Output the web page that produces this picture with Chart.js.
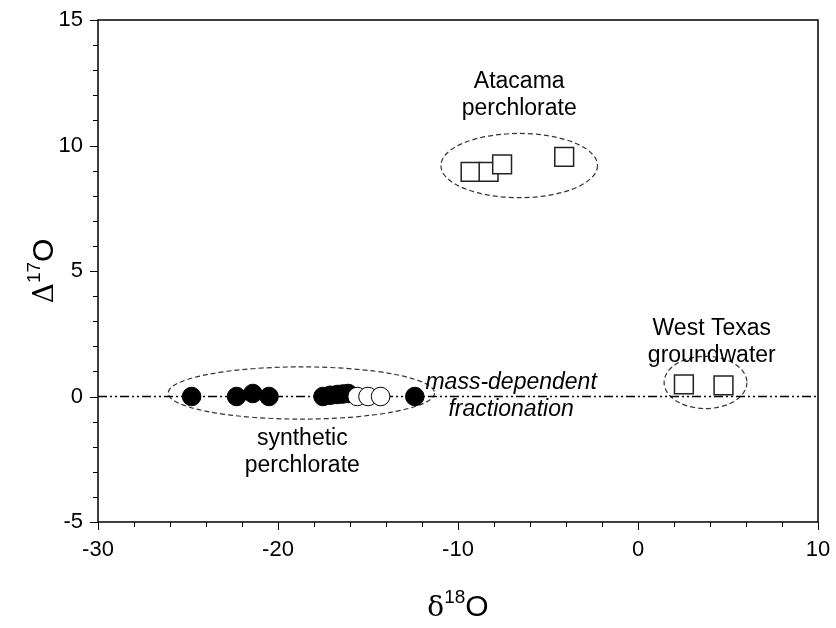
<!DOCTYPE html>
<html>
<head>
<meta charset="utf-8" />
<title>chart</title>
<script src="https://cdn.jsdelivr.net/npm/chart.js"></script>
<style>
  body { margin: 0; background: #fff; }
  #wrap { width: 836px; height: 628px; }
</style>
</head>
<body>
<div id="wrap"><canvas id="scatter" width="836" height="628"></canvas></div>
<script>
// synthetic perchlorate (filled = one lab set, open = another)
var synthFilledX = [-24.8, -22.3, -21.4, -20.5, -17.5, -17.1, -16.7, -16.4, -16.1, -12.4];
var synthFilledY = [0.0, 0.0, 0.12, 0.0, 0.0, 0.05, 0.08, 0.1, 0.12, 0.0];
var synthOpenX = [-15.6, -15.0, -14.3];
var synthOpenY = [0.0, 0.0, 0.0];
// Atacama + West Texas
var atacamaX = [-9.3, -8.3, -7.55, -4.1];
var atacamaY = [8.95, 8.95, 9.25, 9.55];
var texasX = [2.55, 4.75];
var texasY = [0.48, 0.44];
// mass-dependent line
var mdlX = [-30, 10];
var mdlY = [0, 0];

// dashed ellipses round the groups: cx, cy, rx, ry (data units)
var ellipseCx = [-18.7, -6.6, 3.75];
var ellipseCy = [0.14, 9.2, 0.56];
var ellipseRx = [7.4, 4.35, 2.3];
var ellipseRy = [1.04, 1.28, 1.04];

var noteText = [["Atacama", "perchlorate"], ["West Texas", "groundwater"], ["synthetic", "perchlorate"], ["mass-dependent", "fractionation"]];
var noteX = [-6.6, 4.1, -18.65, -7.05];
var noteY = [12.0, 2.16, -2.2, 0.02];
var noteItalic = [false, false, false, true];

function pts(xs, ys) {
    return xs.map(function (x, i) { return { x: x, y: ys[i] }; });
}

var extras = {
    id: 'extras',
    beforeDatasetsDraw: function (chart) {
        var ctx = chart.ctx, xs = chart.scales.x, ys = chart.scales.y;
        ctx.save();
        ctx.strokeStyle = '#333';
        ctx.lineWidth = 1.2;
        ctx.setLineDash([5, 3]);
        for (var i = 0; i < ellipseCx.length; i++) {
            var cx = xs.getPixelForValue(ellipseCx[i]);
            var cy = ys.getPixelForValue(ellipseCy[i]);
            var rx = xs.getPixelForValue(ellipseCx[i] + ellipseRx[i]) - cx;
            var ry = cy - ys.getPixelForValue(ellipseCy[i] + ellipseRy[i]);
            ctx.beginPath();
            ctx.ellipse(cx, cy, rx, ry, 0, 0, Math.PI * 2);
            ctx.stroke();
        }
        ctx.restore();
    },
    afterDraw: function (chart) {
        var ctx = chart.ctx, xs = chart.scales.x, ys = chart.scales.y, a = chart.chartArea;
        ctx.save();
        // frame
        ctx.strokeStyle = '#000';
        ctx.lineWidth = 1.5;
        ctx.strokeRect(a.left, a.top, a.right - a.left, a.bottom - a.top);
        // tick marks, outside
        ctx.lineWidth = 1;
        ctx.beginPath();
        xs.ticks.forEach(function (t) {
            var px = Math.round(xs.getPixelForValue(t.value)) + 0.5;
            var len = (t.value % 10 === 0) ? 8 : 5;
            ctx.moveTo(px, a.bottom);
            ctx.lineTo(px, a.bottom + len);
        });
        ys.ticks.forEach(function (t) {
            var py = Math.round(ys.getPixelForValue(t.value)) + 0.5;
            var len = (t.value % 5 === 0) ? 8 : 5;
            ctx.moveTo(a.left, py);
            ctx.lineTo(a.left - len, py);
        });
        ctx.stroke();

        // notes
        ctx.fillStyle = '#000';
        ctx.textAlign = 'center';
        ctx.textBaseline = 'middle';
        for (var i = 0; i < noteText.length; i++) {
            ctx.font = (noteItalic[i] ? 'italic ' : '') + '23px "Liberation Sans", Arial, sans-serif';
            var nx = xs.getPixelForValue(noteX[i]);
            var ny = ys.getPixelForValue(noteY[i]);
            ctx.fillText(noteText[i][0], nx, ny - 13.5);
            ctx.fillText(noteText[i][1], nx, ny + 13.5);
        }

        // axis titles with superscripts
        function title(sym, sup, letter) {
            ctx.textAlign = 'left';
            ctx.textBaseline = 'alphabetic';
            ctx.font = '28px "DejaVu Serif", "Liberation Serif", serif';
            var w1 = ctx.measureText(sym).width;
            ctx.font = '19px "Liberation Sans", Arial, sans-serif';
            var w2 = ctx.measureText(sup).width;
            ctx.font = '30px "Liberation Sans", Arial, sans-serif';
            var w3 = ctx.measureText(letter).width;
            var x0 = -(w1 + w2 + w3) / 2;
            ctx.font = '28px "DejaVu Serif", "Liberation Serif", serif';
            ctx.fillText(sym, x0, 0);
            ctx.font = '19px "Liberation Sans", Arial, sans-serif';
            ctx.fillText(sup, x0 + w1, -13);
            ctx.font = '30px "Liberation Sans", Arial, sans-serif';
            ctx.fillText(letter, x0 + w1 + w2, 0);
        }
        ctx.save();
        ctx.translate((a.left + a.right) / 2, 616);
        title('\u03b4', '18', 'O');
        ctx.restore();
        ctx.save();
        ctx.translate(53, (a.top + a.bottom) / 2);
        ctx.rotate(-Math.PI / 2);
        title('\u0394', '17', 'O');
        ctx.restore();

        ctx.restore();
    }
};

function noPad(s) {
    s.paddingLeft = 0; s.paddingRight = 0; s.paddingTop = 0; s.paddingBottom = 0;
}

new Chart(document.getElementById('scatter'), {
    type: 'scatter',
    data: {
        datasets: [
            {
                type: 'line', data: pts(mdlX, mdlY), borderColor: '#000', borderWidth: 1.5,
                borderDash: [9, 3, 2, 3, 2, 3], pointRadius: 0, fill: false, order: 5
            },
            {
                data: pts(synthFilledX, synthFilledY), pointRadius: 9.3, pointBackgroundColor: '#000',
                pointBorderColor: '#000', pointBorderWidth: 1, order: 4
            },
            {
                data: pts(synthOpenX, synthOpenY), pointRadius: 9.3, pointBackgroundColor: '#fff',
                pointBorderColor: '#000', pointBorderWidth: 1, order: 3
            },
            {
                data: pts(atacamaX, atacamaY), pointStyle: 'rect', pointRadius: 13.3, pointBackgroundColor: '#fff',
                pointBorderColor: '#222', pointBorderWidth: 1.5, order: 2
            },
            {
                data: pts(texasX, texasY), pointStyle: 'rect', pointRadius: 13.3, pointBackgroundColor: '#fff',
                pointBorderColor: '#222', pointBorderWidth: 1.5, order: 1
            }
        ]
    },
    options: {
        responsive: false,
        animation: false,
        devicePixelRatio: 1,
        layout: { padding: { top: 20, right: 18, left: 0, bottom: 0 } },
        plugins: { legend: { display: false }, tooltip: { enabled: false } },
        scales: {
            x: {
                type: 'linear', min: -30, max: 10,
                grid: { display: true, drawOnChartArea: false, drawTicks: false },
                border: { display: false },
                ticks: {
                    stepSize: 2, autoSkip: false, maxRotation: 0, padding: 15, color: '#000',
                    font: { size: 22, family: '"Liberation Sans", Arial, sans-serif' },
                    callback: function (v) { return v % 10 === 0 ? v : ''; }
                },
                afterFit: function (s) { s.height = 106; noPad(s); }
            },
            y: {
                type: 'linear', min: -5, max: 15,
                grid: { display: true, drawOnChartArea: false, drawTicks: false },
                border: { display: false },
                ticks: {
                    stepSize: 1, autoSkip: false, padding: 15, color: '#000',
                    font: { size: 22, family: '"Liberation Sans", Arial, sans-serif' },
                    callback: function (v) { return v % 5 === 0 ? v : ''; }
                },
                afterFit: function (s) { s.width = 98; noPad(s); }
            }
        }
    },
    plugins: [extras]
});
</script>
</body>
</html>
